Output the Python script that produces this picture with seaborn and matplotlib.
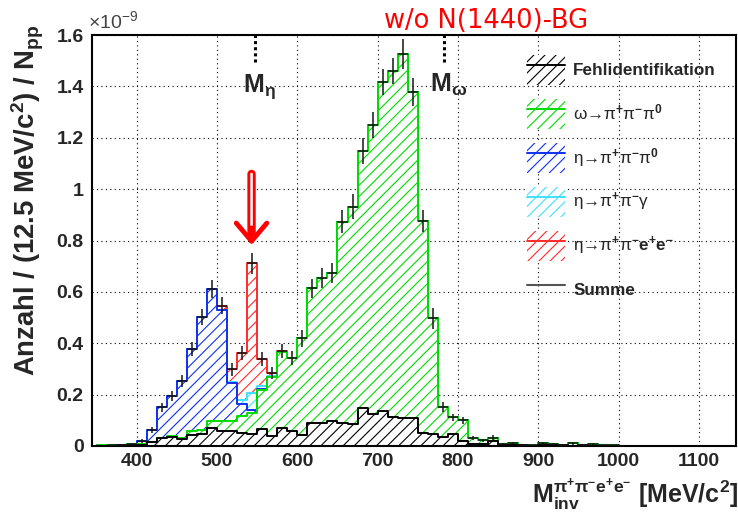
import numpy as np
import pandas as pd
import matplotlib
matplotlib.use("Agg")
import matplotlib.pyplot as plt
import seaborn as sns
from matplotlib.patches import Patch
from matplotlib.lines import Line2D
from matplotlib.legend_handler import HandlerTuple
from matplotlib.ticker import MultipleLocator, FuncFormatter
import matplotlib.patheffects as pe

sns.set_style("white")
plt.rcParams['font.family'] = ['Liberation Sans', 'DejaVu Sans']
plt.rcParams['font.weight'] = 'bold'
plt.rcParams['axes.labelweight'] = 'bold'
plt.rcParams['mathtext.fontset'] = 'custom'
plt.rcParams['mathtext.rm'] = 'Liberation Sans'
plt.rcParams['mathtext.bf'] = 'Liberation Sans:bold'
plt.rcParams['mathtext.it'] = 'Liberation Sans:italic'
plt.rcParams['mathtext.default'] = 'regular'
plt.rcParams['hatch.linewidth'] = 0.8

# ---------------- data (12.5 MeV bins starting at 350 MeV) ----------------
BIN_WIDTH = 12.5
BIN_START = 350.0
N_BINS = 64

misid = [0.000, 0.001, 0.003, 0.002, 0.004, 0.014, 0.030, 0.036, 0.026, 0.042,
         0.045, 0.069, 0.057, 0.057, 0.050, 0.045, 0.066, 0.040, 0.072, 0.060,
         0.043, 0.091, 0.091, 0.097, 0.091, 0.084, 0.147, 0.124, 0.136, 0.114,
         0.110, 0.110, 0.052, 0.047, 0.034, 0.045, 0.020, 0.008, 0.008, 0.020,
         0.003, 0.004, 0.002, 0.001, 0.004, 0.002, 0.003, 0.001, 0.002, 0.001,
         0.001, 0.001, 0.000, 0.001, 0.000, 0.000, 0.001, 0.000, 0.000, 0.000,
         0.000, 0.000, 0.000, 0.000]
omega_3pi = [0.002, 0.002, 0.002, 0.004, 0.004, 0.003, 0.003, 0.002, 0.004, 0.018,
             0.017, 0.028, 0.040, 0.040, 0.065, 0.083, 0.152, 0.227, 0.295, 0.281,
             0.376, 0.523, 0.562, 0.578, 0.782, 0.848, 1.001, 1.126, 1.280, 1.347,
             1.415, 1.267, 0.825, 0.450, 0.119, 0.067, 0.080, 0.024, 0.014, 0.013,
             0.003, 0.008, 0.002, 0.001, 0.006, 0.004, 0.000, 0.009, 0.001, 0.005,
             0.001, 0.001, 0.001, 0.000, 0.001, 0.001, 0.000, 0.001, 0.000, 0.001,
             0.000, 0.000, 0.001, 0.000]
eta_3pi = [0.000, 0.000, 0.000, 0.002, 0.012, 0.045, 0.117, 0.157, 0.223, 0.318,
           0.441, 0.514, 0.432, 0.149, 0.047, 0.012, 0.002, 0.002, 0.000, 0.000] + [0.0] * 44
eta_gamma = [0.0] * 12 + [0.002, 0.004, 0.018, 0.065, 0.013, 0.003] + [0.0] * 46
eta_ee = [0.0] * 11 + [0.002, 0.015, 0.048, 0.181, 0.506, 0.106, 0.011, 0.004] + [0.0] * 45
sum_err = [0.000, 0.002, 0.004, 0.004, 0.008, 0.012, 0.018, 0.020, 0.024, 0.028,
           0.032, 0.035, 0.033, 0.024, 0.028, 0.040, 0.026, 0.024, 0.028, 0.027,
           0.032, 0.038, 0.039, 0.039, 0.045, 0.048, 0.050, 0.052, 0.050, 0.050,
           0.058, 0.055, 0.043, 0.040, 0.020, 0.013, 0.013, 0.008, 0.006, 0.008,
           0.004, 0.005, 0.003, 0.002, 0.005, 0.004, 0.003, 0.005, 0.003, 0.004,
           0.002, 0.002, 0.002, 0.002, 0.002, 0.002, 0.002, 0.002, 0.002, 0.002,
           0.002, 0.002, 0.002, 0.002]

labels = ["Fehlidentifikation",
          r"ω→π$^{\mathbf{+}}$π$^{\mathbf{-}}$π$^{\mathbf{0}}$",
          r"η→π$^{\mathbf{+}}$π$^{\mathbf{-}}$π$^{\mathbf{0}}$",
          r"η→π$^{\mathbf{+}}$π$^{\mathbf{-}}$γ",
          r"η→π$^{\mathbf{+}}$π$^{\mathbf{-}}$$\mathbf{e^{+}e^{-}}$",
          "Summe"]
colors = ["black", "#00dd00", "#1030f0", "#40e0ff", "#ff2a2a"]

M_ETA = 547.86
M_OMEGA = 782.65

# ---------------- figure ----------------
edges = BIN_START + BIN_WIDTH * np.arange(N_BINS + 1)
centers = edges[:-1] + BIN_WIDTH / 2
components = np.vstack([misid, omega_3pi, eta_3pi, eta_gamma, eta_ee])
stacked = np.cumsum(components, axis=0)
total = stacked[-1]

fig = plt.figure(figsize=(7.38, 5.14), dpi=100)
ax = fig.add_axes([92 / 738, 1 - 446 / 514, 644 / 738, 411 / 514])

for i in reversed(range(len(colors))):
    df = pd.DataFrame({"mass": centers, "w": stacked[i]})
    sns.histplot(data=df, x="mass", weights="w", bins=edges.tolist(), element="step",
                 fill=True, facecolor="white", edgecolor=colors[i], hatch="///",
                 linewidth=1.4, ax=ax)

mask = (total > 0.0015) & (np.array(sum_err) > 0)
ax.errorbar(centers[mask], total[mask], yerr=np.array(sum_err)[mask],
            xerr=BIN_WIDTH / 2, fmt="none", ecolor="#151515", elinewidth=1.1,
            capsize=0, zorder=5)

ax.set_xlim(344.3, 1146.3)
ax.set_ylim(0, 1.6)
ax.set_xticks(np.arange(400, 1101, 100))
ax.xaxis.set_minor_locator(MultipleLocator(20))
ax.yaxis.set_major_locator(MultipleLocator(0.2))
ax.yaxis.set_minor_locator(MultipleLocator(0.05))
ax.yaxis.set_major_formatter(FuncFormatter(lambda v, p: f"{v:g}"))
ax.tick_params(which="both", direction="in", top=False, right=False, width=1.4,
               labelsize=14)
ax.tick_params(axis="y", which="major", length=13, pad=6)
ax.tick_params(axis="y", which="minor", length=5.8)
ax.tick_params(axis="x", which="major", length=9.4, pad=5)
ax.tick_params(axis="x", which="minor", length=5)
for s in ax.spines.values():
    s.set_linewidth(1.5)
    s.set_color("black")
ax.grid(True, which="major", color="black", linestyle=(0, (1, 3)), linewidth=0.8)
ax.set_axisbelow(True)

ax.set_ylabel(r"Anzahl / (12.5 MeV/c$^{2}$) / N$_{pp}$", fontsize=19.8,
              fontweight="bold")
ax.yaxis.set_label_coords(-0.099, 0.598)
ax.yaxis.label.set_va("center")
ax.set_xlabel(r"M$_{inv}^{π^{+}π^{-}e^{+}e^{-}}$ [MeV/c$^{2}$]", fontsize=18,
              fontweight="bold", ha="right")
ax.xaxis.set_label_coords(1.003, -0.119)
ax.xaxis.label.set_va("center")

# mass markers
for m in (M_ETA, M_OMEGA):
    ax.axvline(m, ymin=1.495 / 1.6, ymax=1.0, color="black", lw=2.2,
               linestyle=(0, (1, 1)), zorder=3)
ax.text(M_ETA + 5, 1.378, r"M$_{η}$", ha="center", va="baseline", fontsize=18)
ax.text(M_OMEGA + 5.5, 1.378, r"M$_{ω}$", ha="center", va="baseline", fontsize=18)

# red arrow pointing to eta -> pi pi e e peak
ax.annotate("", xy=(543, 0.80), xytext=(543, 1.07),
            arrowprops=dict(arrowstyle="-", color="white", lw=1.8,
                            path_effects=[pe.Stroke(linewidth=6, foreground="red"),
                                          pe.Normal()]), zorder=6)
ax.annotate("", xy=(543, 0.772), xytext=(543, 0.86),
            arrowprops=dict(arrowstyle="->,head_length=0.65,head_width=0.55",
                            color="red", lw=3.5, mutation_scale=20), zorder=6)

# legend
handles = [(Patch(facecolor="white", edgecolor=c, hatch="///", linewidth=0),
            Line2D([], [], color=c, lw=1.4)) for c in colors]
handles.append(Line2D([], [], color="#555555", lw=1.5))
leg = ax.legend(handles, labels, handler_map={tuple: HandlerTuple(ndivide=1, pad=0)},
                loc="upper left", bbox_to_anchor=(0.675, 0.951), frameon=False,
                fontsize=12.3, handlelength=2.23, handleheight=2.32, labelspacing=0.82,
                handletextpad=0.5, borderpad=0, borderaxespad=0)
for i, t in enumerate(leg.get_texts()):
    t.set_fontweight("bold" if i in (0, 5) else "normal")

fig.text(88 / 738, 1 - 28 / 514, r"$\times$10$^{-9}$", fontsize=14,
         fontweight="normal", color="#444444", ha="left", va="baseline")
fig.text(486 / 738, 1 - 28 / 514, "w/o N(1440)-BG", color="red", fontsize=18.5,
         fontweight="normal", family="DejaVu Sans", ha="center", va="baseline")

fig.savefig("out.png", dpi=100)
